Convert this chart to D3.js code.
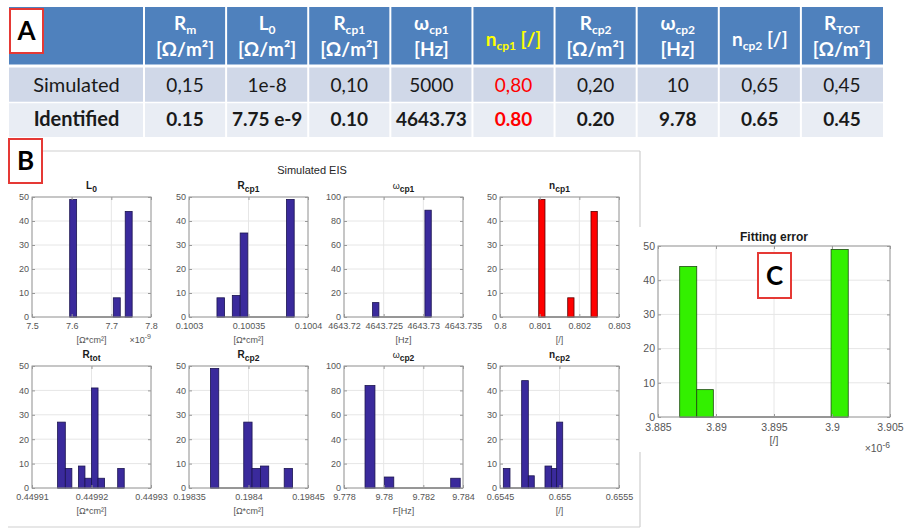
<!DOCTYPE html>
<html>
<head>
<meta charset="utf-8">
<script src="https://cdn.jsdelivr.net/npm/d3@7/dist/d3.min.js"></script>
<style>
  body { margin: 0; background: #fff; }
  svg { display: block; }
</style>
</head>
<body>
<svg id="fig" width="905" height="529"></svg>
<script>
// ---------- Table A: simulated vs identified parameters ----------
const headMain = ["R", "L", "R", "ω", "n", "R", "ω", "n", "R"];
const headSub  = ["m", "0", "cp1", "cp1", "cp1", "cp2", "cp2", "cp2", "TOT"];
const headUnit = ["[Ω/m²]", "[Ω/m²]", "[Ω/m²]", "[Hz]", "[/]", "[Ω/m²]", "[Hz]", "[/]", "[Ω/m²]"];
const rowNames = ["Simulated", "Identified"];
const simulatedVals  = ["0,15", "1e-8", "0,10", "5000", "0,80", "0,20", "10", "0,65", "0,45"];
const identifiedVals = ["0.15", "7.75 e-9", "0.10", "4643.73", "0.80", "0.20", "9.78", "0.65", "0.45"];
const highlightCol = 4;

// ---------- Panel B: histograms of identified parameters (Simulated EIS) ----------
// L0 (x 1e-9)
const l0Ticks = ["7.5", "7.6", "7.7", "7.8"];
const l0Left  = [7.595, 7.705, 7.735];
const l0Right = [7.6125, 7.7225, 7.7525];
const l0Count = [49, 8, 44];
// Rcp1
const rcp1Ticks = ["0.1003", "0.10035", "0.1004"];
const rcp1Left  = [0.1003235, 0.1003364, 0.1003430, 0.1003819];
const rcp1Right = [0.1003299, 0.1003430, 0.1003494, 0.1003884];
const rcp1Count = [8, 9, 35, 49];
// omega cp1
const wcp1Ticks = ["4643.72", "4643.725", "4643.73", "4643.735"];
const wcp1Left  = [4643.7236, 4643.7302];
const wcp1Right = [4643.7244, 4643.7310];
const wcp1Count = [12, 89];
// ncp1
const ncp1Ticks = ["0.8", "0.801", "0.802", "0.803"];
const ncp1Left  = [0.800976, 0.801707, 0.802294];
const ncp1Right = [0.801134, 0.801866, 0.802453];
const ncp1Count = [49, 8, 44];
// Rtot
const rtotTicks = ["0.44991", "0.44992", "0.44993"];
const rtotLeft  = [0.4499143, 0.4499156, 0.4499178, 0.4499189, 0.4499200, 0.4499211, 0.4499244];
const rtotRight = [0.4499156, 0.4499167, 0.4499189, 0.4499200, 0.4499211, 0.4499222, 0.4499255];
const rtotCount = [27, 8, 9, 4, 41, 4, 8];
// Rcp2
const rcp2Ticks = ["0.19835", "0.1984", "0.19845"];
const rcp2Left  = [0.198368, 0.198396, 0.198403, 0.198410, 0.198430];
const rcp2Right = [0.198375, 0.198403, 0.198410, 0.198417, 0.198437];
const rcp2Count = [49, 27, 8, 9, 8];
// omega cp2
const wcp2Ticks = ["9.778", "9.78", "9.782", "9.784"];
const wcp2Left  = [9.77906, 9.78003, 9.78338];
const wcp2Right = [9.77956, 9.78051, 9.78386];
const wcp2Count = [84, 9, 8];
// ncp2
const ncp2Ticks = ["0.6545", "0.655", "0.6555"];
const ncp2Left  = [0.654528, 0.654682, 0.654738, 0.654878, 0.654934, 0.654976];
const ncp2Right = [0.654584, 0.654738, 0.654788, 0.654934, 0.654976, 0.655027];
const ncp2Count = [8, 44, 5, 9, 8, 27];

// ---------- Panel C: fitting error (x 1e-6) ----------
const errTicks = ["3.885", "3.89", "3.895", "3.9", "3.905"];
const errLeft  = [3.88687, 3.88834, 3.89992];
const errRight = [3.88834, 3.88977, 3.90140];
const errCount = [44, 8, 49];

// ======================================================================
const svg = d3.select("#fig");
const tableFont = "Lato, 'Liberation Sans', sans-serif";
const plotFont = "'Liberation Sans', Arial, sans-serif";

// ---- table ----
const tLeft = 9, firstColRight = 144, tRight = 883;
const colX = d3.scaleBand().domain(d3.range(headMain.length)).range([firstColRight, tRight]);
const rowY = d3.scaleOrdinal().domain(["head", "sim", "id"]).range([7, 67, 102]);
const rowH = { head: 58, sim: 35, id: 35 };
const rowFill = { head: "#4f81bd", sim: "#d0d8e8", id: "#e9edf4" };

const tbl = svg.append("g");
["head", "sim", "id"].forEach(r => {
  tbl.append("rect").attr("x", tLeft).attr("y", rowY(r))
    .attr("width", tRight - tLeft).attr("height", rowH[r]).attr("fill", rowFill[r]);
});
// white cell separators
colX.domain().forEach(i => {
  tbl.append("line").attr("x1", colX(i)).attr("x2", colX(i))
    .attr("y1", 7).attr("y2", 137).attr("stroke", "#fff").attr("stroke-width", 2);
});
tbl.append("line").attr("x1", tLeft).attr("x2", tRight).attr("y1", 66).attr("y2", 66)
  .attr("stroke", "#fff").attr("stroke-width", 3);
tbl.append("line").attr("x1", tLeft).attr("x2", tRight).attr("y1", 102.5).attr("y2", 102.5)
  .attr("stroke", "#fff").attr("stroke-width", 1.5);

// header cells
headMain.forEach((m, i) => {
  const cx = colX(i) + colX.bandwidth() / 2;
  const color = i === highlightCol ? "#ffff00" : "#ffffff";
  const singleLine = headUnit[i] === "[/]";
  const t1 = tbl.append("text").attr("x", cx).attr("y", singleLine ? 46 : 30)
    .attr("text-anchor", "middle").attr("fill", color)
    .attr("font-family", tableFont).attr("font-weight", "bold").attr("font-size", 19);
  t1.append("tspan").text(m);
  t1.append("tspan").attr("font-size", 12).attr("dy", 4).text(headSub[i]);
  if (singleLine) {
    t1.append("tspan").attr("dy", -4).text(" " + headUnit[i]);
  } else {
    tbl.append("text").attr("x", cx).attr("y", 56).attr("text-anchor", "middle")
      .attr("fill", color).attr("font-family", tableFont).attr("font-weight", "bold")
      .attr("font-size", 19).text(headUnit[i]);
  }
});

// body rows
const bodyRows = [simulatedVals, identifiedVals];
bodyRows.forEach((vals, r) => {
  const baseY = r === 0 ? 92 : 126;
  const weight = r === 0 ? "normal" : "bold";
  tbl.append("text").attr("x", (tLeft + firstColRight) / 2).attr("y", baseY)
    .attr("text-anchor", "middle").attr("font-family", tableFont).attr("font-size", 20)
    .attr("font-weight", weight).attr("fill", "#1a1a1a").text(rowNames[r]);
  vals.forEach((v, i) => {
    tbl.append("text").attr("x", colX(i) + colX.bandwidth() / 2).attr("y", baseY)
      .attr("text-anchor", "middle").attr("font-family", tableFont).attr("font-size", 19)
      .attr("font-weight", weight).attr("fill", i === highlightCol ? "#ff0000" : "#1a1a1a")
      .text(v);
  });
});

// ---- panel B frame ----
const frame = svg.append("g").attr("stroke", "#cfcfcf").attr("stroke-width", 1.2).attr("fill", "none");
frame.append("line").attr("x1", 42).attr("x2", 640).attr("y1", 151).attr("y2", 151);
frame.append("line").attr("x1", 640).attr("x2", 640).attr("y1", 151).attr("y2", 527);
frame.append("line").attr("x1", 8).attr("x2", 640).attr("y1", 527).attr("y2", 527);

svg.append("text").attr("x", 312).attr("y", 174).attr("text-anchor", "middle")
  .attr("font-family", plotFont).attr("font-size", 11).attr("fill", "#262626")
  .text("Simulated EIS");

// ---- histogram drawer ----
function drawHist(o) {
  const g = svg.append("g");
  const tickVals = o.ticks.map(Number);
  const x = d3.scaleLinear().domain([tickVals[0], tickVals[tickVals.length - 1]])
    .range([o.x0, o.x0 + o.w]);
  const y = d3.scaleLinear().domain([0, o.yMax]).range([o.y0 + o.h, o.y0]);
  const yTicks = d3.range(0, o.yMax + 0.001, o.yStep);

  g.append("rect").attr("x", o.x0).attr("y", o.y0).attr("width", o.w).attr("height", o.h)
    .attr("fill", "#fff");
  // grid
  g.selectAll(".gx").data(tickVals).join("line")
    .attr("x1", d => x(d)).attr("x2", d => x(d)).attr("y1", o.y0).attr("y2", o.y0 + o.h)
    .attr("stroke", "#e6e6e6").attr("stroke-width", 1);
  g.selectAll(".gy").data(yTicks).join("line")
    .attr("x1", o.x0).attr("x2", o.x0 + o.w).attr("y1", d => y(d)).attr("y2", d => y(d))
    .attr("stroke", "#e6e6e6").attr("stroke-width", 1);

  // zero-count bins along the baseline
  g.append("line").attr("x1", x(d3.min(o.left))).attr("x2", x(d3.max(o.right)))
    .attr("y1", y(0)).attr("y2", y(0)).attr("stroke", "#333").attr("stroke-width", 1);
  // bars
  g.selectAll(".bar").data(o.count).join("rect")
    .attr("x", (d, i) => x(o.left[i])).attr("width", (d, i) => x(o.right[i]) - x(o.left[i]))
    .attr("y", d => y(d)).attr("height", d => y(0) - y(d))
    .attr("fill", o.fill).attr("stroke", o.edge).attr("stroke-width", 0.8);

  // axes with inward ticks
  const axB = d3.axisBottom(x).tickValues(tickVals).tickFormat((d, i) => o.ticks[i])
    .tickSizeInner(-3).tickSizeOuter(0).tickPadding(o.xPad);
  const axL = d3.axisLeft(y).tickValues(yTicks).tickFormat(d3.format("d"))
    .tickSizeInner(-3).tickSizeOuter(0).tickPadding(3);
  const axT = d3.axisTop(x).tickValues(tickVals).tickFormat("").tickSizeInner(-3).tickSizeOuter(0);
  const axR = d3.axisRight(y).tickValues(yTicks).tickFormat("").tickSizeInner(-3).tickSizeOuter(0);
  [[axB, `translate(0,${o.y0 + o.h})`], [axL, `translate(${o.x0},0)`],
   [axT, `translate(0,${o.y0})`], [axR, `translate(${o.x0 + o.w},0)`]].forEach(([ax, tr]) => {
    const a = g.append("g").attr("transform", tr).call(ax);
    a.select(".domain").remove();
    a.selectAll("line").attr("stroke", "#999");
    a.selectAll("text").attr("font-family", plotFont).attr("font-size", o.fs).attr("fill", "#555");
  });
  g.append("rect").attr("x", o.x0).attr("y", o.y0).attr("width", o.w).attr("height", o.h)
    .attr("fill", "none").attr("stroke", "#9a9a9a").attr("stroke-width", 1);

  // title
  const cx = o.x0 + o.w / 2;
  const t = g.append("text").attr("x", cx).attr("y", o.y0 - o.titleGap).attr("text-anchor", "middle")
    .attr("font-family", plotFont).attr("font-size", o.titleFs).attr("fill", "#1a1a1a")
    .attr("font-weight", "bold");
  if (o.greek) {
    t.append("tspan").attr("font-weight", "normal").attr("font-size", o.titleFs - 1).text(o.title);
  } else {
    t.append("tspan").text(o.title);
  }
  if (o.sub) t.append("tspan").attr("dy", 3).attr("font-size", o.titleFs - 1.5).text(o.sub);

  // x label
  g.append("text").attr("x", cx).attr("y", o.y0 + o.h + o.labelGap).attr("text-anchor", "middle")
    .attr("font-family", plotFont).attr("font-size", o.fs).attr("fill", "#555").text(o.xlabel);
  if (o.exp) {
    const e = g.append("text").attr("x", o.x0 + o.w).attr("y", o.y0 + o.h + o.labelGap + o.expDy)
      .attr("text-anchor", "end").attr("font-family", plotFont).attr("font-size", o.fs)
      .attr("fill", "#555");
    e.append("tspan").text("×10");
    e.append("tspan").attr("dy", -4).attr("font-size", o.fs - 2).text(o.exp);
  }
}

const colLeft = [32, 189, 344, 500];
const rowTop = [197, 366];
const common = { w: 119, fs: 9, xPad: 6, titleFs: 10, titleGap: 8, labelGap: 26, expDy: 0,
                 fill: "#3a2a9c", edge: "#1b1450" };
const rowH2 = [120, 122];

const panels = [
  { r: 0, c: 0, ticks: l0Ticks, left: l0Left, right: l0Right, count: l0Count, yMax: 50, yStep: 10,
    title: "L", sub: "0", xlabel: "[Ω*cm²]", exp: "-9" },
  { r: 0, c: 1, ticks: rcp1Ticks, left: rcp1Left, right: rcp1Right, count: rcp1Count, yMax: 50, yStep: 10,
    title: "R", sub: "cp1", xlabel: "[Ω*cm²]" },
  { r: 0, c: 2, ticks: wcp1Ticks, left: wcp1Left, right: wcp1Right, count: wcp1Count, yMax: 100, yStep: 20,
    title: "ω", greek: true, sub: "cp1", xlabel: "[Hz]" },
  { r: 0, c: 3, ticks: ncp1Ticks, left: ncp1Left, right: ncp1Right, count: ncp1Count, yMax: 50, yStep: 10,
    title: "n", sub: "cp1", xlabel: "[/]", fill: "#ff0000", edge: "#5a0000" },
  { r: 1, c: 0, ticks: rtotTicks, left: rtotLeft, right: rtotRight, count: rtotCount, yMax: 50, yStep: 10,
    title: "R", sub: "tot", xlabel: "[Ω*cm²]" },
  { r: 1, c: 1, ticks: rcp2Ticks, left: rcp2Left, right: rcp2Right, count: rcp2Count, yMax: 50, yStep: 10,
    title: "R", sub: "cp2", xlabel: "[Ω*cm²]" },
  { r: 1, c: 2, ticks: wcp2Ticks, left: wcp2Left, right: wcp2Right, count: wcp2Count, yMax: 100, yStep: 20,
    title: "ω", greek: true, sub: "cp2", xlabel: "F[Hz]" },
  { r: 1, c: 3, ticks: ncp2Ticks, left: ncp2Left, right: ncp2Right, count: ncp2Count, yMax: 50, yStep: 10,
    title: "n", sub: "cp2", xlabel: "[/]" }
];
panels.forEach(p => {
  drawHist(Object.assign({}, common, { x0: colLeft[p.c], y0: rowTop[p.r], h: rowH2[p.r] }, p));
});

// ---- panel C: fitting error ----
svg.append("rect").attr("x", 632).attr("y", 227).attr("width", 273).attr("height", 225).attr("fill", "#fff");
drawHist({
  x0: 658, y0: 246, w: 232, h: 171, fs: 10.5, xPad: 7, titleFs: 12, titleGap: 5, labelGap: 27, expDy: 8,
  ticks: errTicks, left: errLeft, right: errRight, count: errCount, yMax: 50, yStep: 10,
  title: "Fitting error", xlabel: "[/]", exp: "-6", fill: "#33f000", edge: "#1d4a10"
});

// ---- panel letters ----
function letterBox(x, y, w, h, ch) {
  svg.append("rect").attr("x", x).attr("y", y).attr("width", w).attr("height", h)
    .attr("fill", "#fff").attr("stroke", "#e53935").attr("stroke-width", 2);
  svg.append("text").attr("x", x + w / 2).attr("y", y + h / 2 + 9).attr("text-anchor", "middle")
    .attr("font-family", tableFont).attr("font-weight", "bold").attr("font-size", 26)
    .attr("fill", "#000").text(ch);
}
letterBox(10, 9, 33, 44, "A");
letterBox(9, 139, 33, 44, "B");
letterBox(758, 253, 33, 45, "C");
</script>
</body>
</html>
